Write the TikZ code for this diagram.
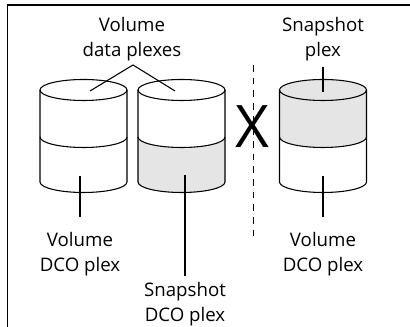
\documentclass[tikz,border=0pt]{standalone}
\usepackage{fontspec}
\setmainfont{Open Sans}
\begin{document}
\begin{tikzpicture}[
        x=0.75pt, y=0.75pt,
        disk/.style = {draw, line width=0.8pt}, % Контур цилиндра
        shade/.style = {fill=black!10}, % Серая часть
        lbl/.style = {align=center, inner sep=0pt, font=\fontsize{14}{19}\selectfont},
        pointer/.style = {draw, line width=1.4pt},
    ]
    \useasboundingbox (0,0) rectangle (410,327);
    \draw[line width=1pt] (7.5,0) -- (7.5,322) -- (410,322);

    % Серые части
    \fill[shade] (138,190) -- (138,145) arc[start angle=180, end angle=360, x radius=43.5, y radius=10.5]
        -- (225,190) arc[start angle=0, end angle=-180, x radius=43.5, y radius=10.5] -- cycle;
    \fill[shade] (279.5,237) -- (279.5,190) arc[start angle=180, end angle=360, x radius=43.5, y radius=10.5]
        -- (366.5,237) arc[start angle=0, end angle=180, x radius=43.5, y radius=10.5] -- cycle;

    % Цилиндры
    \foreach \cx in {83.5, 181.5, 323} {
        \draw[disk] (\cx,237) ellipse[x radius=43.5, y radius=10.5];
        \draw[disk] (\cx-43.5,237) -- (\cx-43.5,145)
            arc[start angle=180, end angle=360, x radius=43.5, y radius=10.5] -- (\cx+43.5,237);
        \draw[disk] (\cx-43.5,190) arc[start angle=180, end angle=360, x radius=43.5, y radius=10.5];
    }

    \node[lbl] (datalbl) at (132,288) {Volume\\data plexes};
    \node[lbl] (snaplbl) at (323,288) {Snapshot\\plex};
    \node[lbl] (vol1lbl) at (80,73) {Volume\\DCO plex};
    \node[lbl] (snap2lbl) at (185,23) {Snapshot\\DCO plex};
    \node[lbl] (vol3lbl) at (323,73) {Volume\\DCO plex};
    \node[font=\fontsize{44}{44}\selectfont, inner sep=0pt] (cross) at (252,200) {X};

    \coordinate (fork) at (133,262);
    \coordinate (top1) at (90,236);
    \coordinate (top2) at (175,236);
    \coordinate (top3) at (323,235);
    \coordinate (bot1) at (80,151);
    \coordinate (bot2) at (185,152);
    \coordinate (bot3) at (323,151);

    \draw[line width=0.8pt] (top1) -- (fork) -- (top2);
    \draw[pointer] ([yshift=-4pt]snaplbl.south) -- (top3);
    \draw[pointer] ([yshift=11pt]vol1lbl.north) -- (bot1);
    \draw[pointer] ([yshift=4pt]snap2lbl.north) -- (bot2);
    \draw[pointer] ([yshift=11pt]vol3lbl.north) -- (bot3);

    \draw[line width=0.7pt, dash pattern=on 5pt off 4.5pt] (253,262) -- (253,89);
\end{tikzpicture}
\end{document}
